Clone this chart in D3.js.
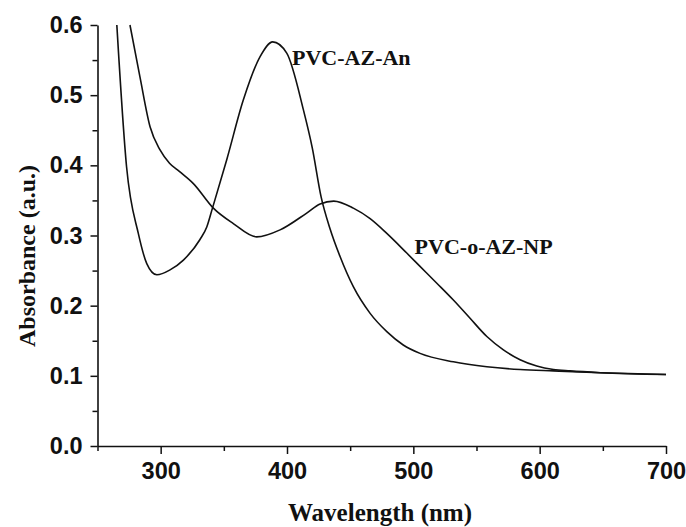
<!DOCTYPE html>
<html>
<head>
<meta charset="utf-8">
<script src="https://cdn.jsdelivr.net/npm/d3@7"></script>
<style>
  html, body { margin: 0; padding: 0; background: #fff; }
  svg { display: block; }
</style>
</head>
<body>
<svg id="chart" width="686" height="527"></svg>
<script>
// ---- data ----
const wlAn  = [265.3, 273, 282.3, 289, 297, 307.4, 318, 331, 336.5, 341, 352.3, 365.4, 378.7, 388.7, 399.8, 413, 420, 427, 434, 442, 452.5, 465.8, 479, 492, 505.3, 531.7, 558.2, 584.5, 611, 648, 700];
const absAn = [0.6, 0.398, 0.303, 0.26, 0.244, 0.251, 0.265, 0.294, 0.312, 0.339, 0.408, 0.493, 0.555, 0.576, 0.56, 0.479, 0.425, 0.355, 0.31, 0.27, 0.227, 0.189, 0.163, 0.144, 0.132, 0.12, 0.113, 0.109, 0.107, 0.1045, 0.102];
const wlNP  = [275.7, 283.6, 291.6, 299.5, 307, 315, 325.9, 341.7, 357.5, 376, 394.5, 415.6, 426.2, 437, 452.5, 465.8, 479, 494.8, 505.3, 518.6, 531.7, 544.9, 558.2, 571.3, 584.5, 597.7, 610.9, 624, 648, 700];
const absNP = [0.6, 0.526, 0.455, 0.422, 0.403, 0.391, 0.374, 0.339, 0.317, 0.298, 0.308, 0.332, 0.345, 0.349, 0.339, 0.324, 0.303, 0.275, 0.256, 0.232, 0.208, 0.182, 0.156, 0.137, 0.123, 0.114, 0.109, 0.107, 0.1045, 0.102];
const xTicks = [300, 400, 500, 600, 700];
const xMinor = [250, 350, 450, 550, 650];
const yTicks = [0.0, 0.1, 0.2, 0.3, 0.4, 0.5, 0.6];
const yMinor = [0.05, 0.15, 0.25, 0.35, 0.45, 0.55];
const seriesLabels = ["PVC-AZ-An", "PVC-o-AZ-NP"];
const xTitle = "Wavelength (nm)";
const yTitle = "Absorbance (a.u.)";

// ---- drawing ----
const svg = d3.select("#chart");
const x = d3.scaleLinear().domain([250, 700]).range([97.5, 666]);
const y = d3.scaleLinear().domain([0, 0.6]).range([446, 25]);

const sansBold = "'Liberation Sans', Arial, sans-serif";
const serif = "'Liberation Serif', 'Times New Roman', serif";

// minor ticks
const xMinorAxis = d3.axisBottom(x).tickValues(xMinor).tickSize(5).tickFormat("");
const yMinorAxis = d3.axisLeft(y).tickValues(yMinor).tickSize(5).tickFormat("");
svg.append("g").attr("transform", `translate(0,${y(0)})`).call(xMinorAxis)
  .call(g => g.select(".domain").remove())
  .selectAll("line").attr("stroke", "#111").attr("stroke-width", 1.5);
svg.append("g").attr("transform", `translate(${x(250)},0)`).call(yMinorAxis)
  .call(g => g.select(".domain").remove())
  .selectAll("line").attr("stroke", "#111").attr("stroke-width", 1.5);

// major axes
const xAxis = d3.axisBottom(x).tickValues(xTicks).tickSize(8).tickSizeOuter(0).tickPadding(8).tickFormat(d3.format("d"));
const yAxis = d3.axisLeft(y).tickValues(yTicks).tickSize(7).tickSizeOuter(0).tickPadding(8).tickFormat(d3.format(".1f"));

const gx = svg.append("g").attr("transform", `translate(0,${y(0)})`).call(xAxis);
gx.select(".domain").attr("stroke", "#111").attr("stroke-width", 1.6);
gx.selectAll(".tick line").attr("stroke", "#111").attr("stroke-width", 1.5);
gx.selectAll(".tick text").attr("font-family", sansBold).attr("font-weight", "bold")
  .attr("font-size", 23.5).attr("fill", "#111");

const gy = svg.append("g").attr("transform", `translate(${x(250)},0)`).call(yAxis);
gy.select(".domain").attr("stroke", "#111").attr("stroke-width", 1.6);
gy.selectAll(".tick line").attr("stroke", "#111").attr("stroke-width", 1.5);
gy.selectAll(".tick text").attr("font-family", sansBold).attr("font-weight", "bold")
  .attr("font-size", 23.5).attr("fill", "#111");

// curves
const line = d3.line().x(d => x(d[0])).y(d => y(d[1])).curve(d3.curveMonotoneX);
const dataAn = wlAn.map((w, i) => [w, absAn[i]]);
const dataNP = wlNP.map((w, i) => [w, absNP[i]]);
[dataAn, dataNP].forEach(d => {
  svg.append("path").datum(d).attr("d", line)
    .attr("fill", "none").attr("stroke", "#111").attr("stroke-width", 1.6);
});

// curve labels
svg.append("text").attr("x", x(404)).attr("y", y(0.543))
  .attr("font-family", serif).attr("font-weight", "bold").attr("font-size", 22)
  .attr("fill", "#111").text(seriesLabels[0]);
svg.append("text").attr("x", x(501)).attr("y", y(0.273))
  .attr("font-family", serif).attr("font-weight", "bold").attr("font-size", 22)
  .attr("fill", "#111").text(seriesLabels[1]);

// axis titles
svg.append("text").attr("x", 380).attr("y", 521).attr("text-anchor", "middle")
  .attr("font-family", serif).attr("font-weight", "bold").attr("font-size", 25)
  .attr("fill", "#111").text(xTitle);
svg.append("text").attr("transform", "translate(35,256) rotate(-90)").attr("text-anchor", "middle")
  .attr("font-family", serif).attr("font-weight", "bold").attr("font-size", 24)
  .attr("fill", "#111").text(yTitle);
</script>
</body>
</html>
